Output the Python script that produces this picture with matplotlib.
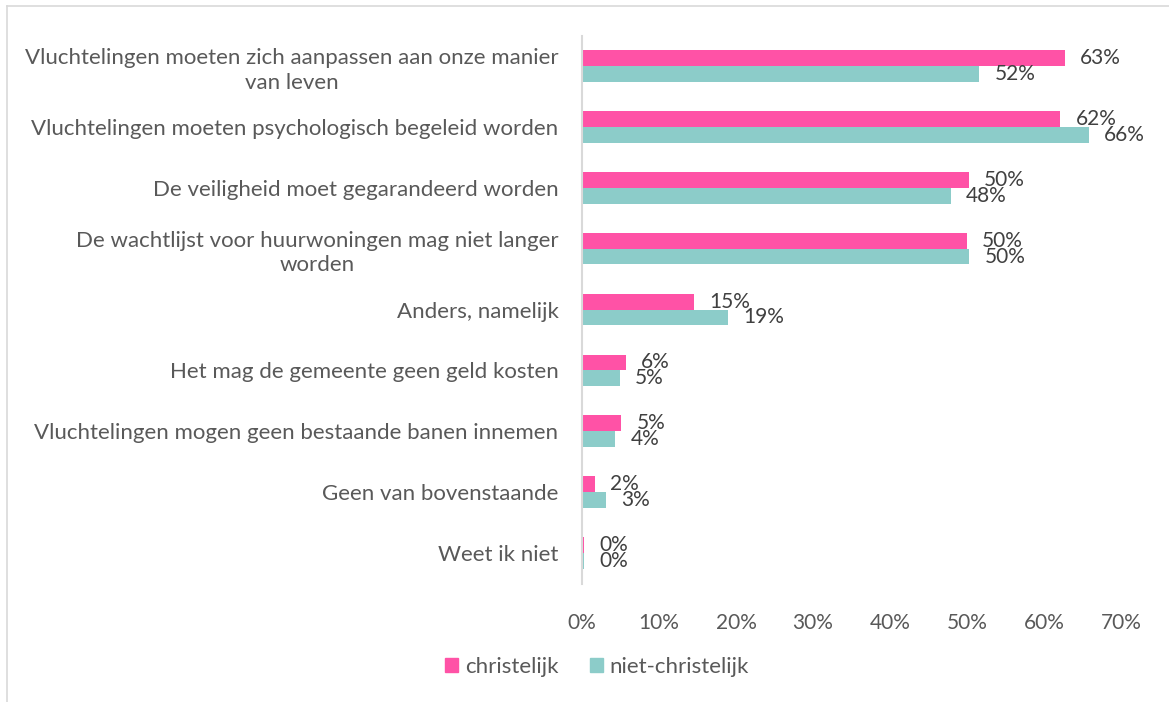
import matplotlib
matplotlib.use("Agg")
import matplotlib.pyplot as plt
from matplotlib.lines import Line2D
from matplotlib.patches import Patch
import numpy as np

categories = [
    "Vluchtelingen moeten zich aanpassen aan onze manier\nvan leven",
    "Vluchtelingen moeten psychologisch begeleid worden",
    "De veiligheid moet gegarandeerd worden",
    "De wachtlijst voor huurwoningen mag niet langer\nworden",
    "Anders, namelijk",
    "Het mag de gemeente geen geld kosten",
    "Vluchtelingen mogen geen bestaande banen innemen",
    "Geen van bovenstaande",
    "Weet ik niet",
]
christelijk = [62.7, 62.1, 50.2, 50.0, 14.6, 5.7, 5.1, 1.7, 0.3]
niet_christelijk = [51.6, 65.8, 47.9, 50.3, 18.9, 4.9, 4.3, 3.1, 0.3]
series_names = ["christelijk", "niet-christelijk"]
xticks = [0, 10, 20, 30, 40, 50, 60, 70]

PINK = "#FF52A6"
TEAL = "#8CCCC9"
TEXT = "#595959"
FONT = ["Lato", "DejaVu Sans"]
plt.rcParams["font.family"] = FONT

fig = plt.figure(figsize=(11.69, 7.02), dpi=100)
ax = fig.add_axes([582/1169, 1-583.5/702, (1121-582)/1169, (583.5-35.5)/702])

n = len(categories)
y = np.arange(n)
h = 0.26
ax.barh(y - h/2, christelijk, height=h, color=PINK, label=series_names[0])
ax.barh(y + h/2, niet_christelijk, height=h, color=TEAL, label=series_names[1])

for i in range(n):
    ax.annotate(f"{round(christelijk[i])}%", (christelijk[i], y[i] - h/2),
                xytext=(11, 0), textcoords="offset points", va="center", ha="left",
                fontsize=15, color="#404040")
    ax.annotate(f"{round(niet_christelijk[i])}%", (niet_christelijk[i], y[i] + h/2),
                xytext=(11, 0), textcoords="offset points", va="center", ha="left",
                fontsize=15, color="#404040")

ax.set_ylim(n - 0.5, -0.5)
ax.set_xlim(0, 70)
ax.set_xticks(xticks)
ax.set_xticklabels([f"{t}%" for t in xticks], fontsize=15)
ax.set_yticks(y)
ax.set_yticklabels(categories, multialignment="center", fontsize=16, linespacing=1.3)
ax.tick_params(axis="both", length=0, labelcolor=TEXT)
ax.tick_params(axis="x", pad=21)
ax.tick_params(axis="y", pad=17)
for s in ["top", "right", "bottom"]:
    ax.spines[s].set_visible(False)
ax.spines["left"].set_color("#D9D9D9")
ax.spines["left"].set_linewidth(1.5)

handles = [Patch(color=PINK), Patch(color=TEAL)]
fig.legend(handles, series_names, loc="center", bbox_to_anchor=(597/1169, 1-667/702),
           ncol=2, frameon=False, fontsize=16, labelcolor=TEXT,
           handlelength=0.6, handleheight=0.6, handletextpad=0.3, columnspacing=1.4)

# outer border (top and left)
fig.add_artist(Line2D([7/1169, 7/1169], [0, 1-6/702], transform=fig.transFigure, color="#D9D9D9", lw=1.2))
fig.add_artist(Line2D([7/1169, 1], [1-6/702, 1-6/702], transform=fig.transFigure, color="#D9D9D9", lw=1.2))

fig.savefig("out.png", dpi=100, facecolor="white")
